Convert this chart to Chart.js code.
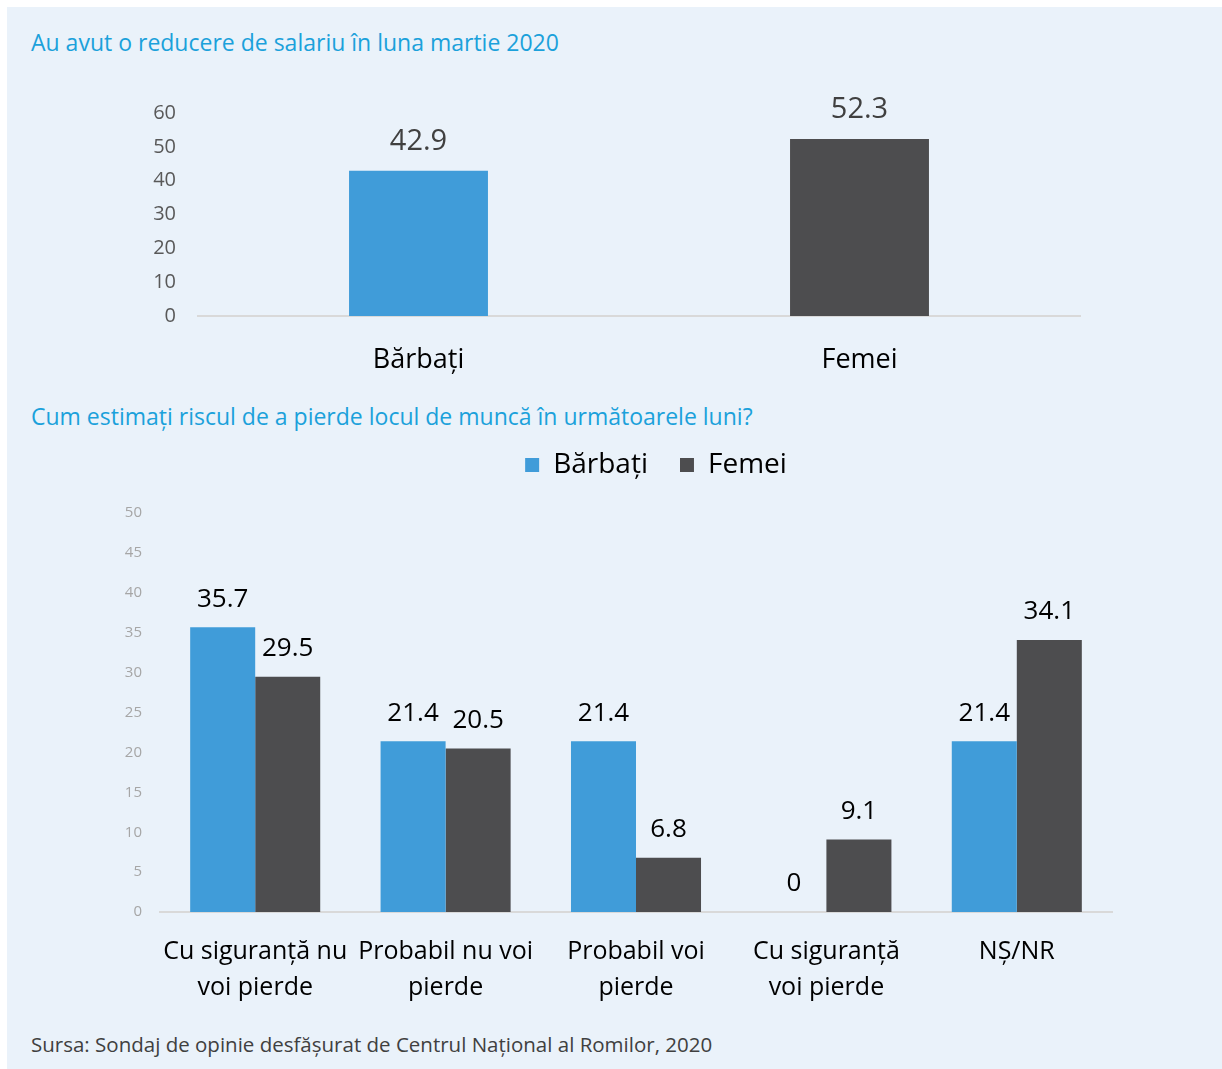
<!DOCTYPE html>
<html>
<head>
  <title>Reducere salariu si risc pierdere loc de munca</title>
  <style>
    body { margin: 0; background: #fff; font-family: "Open Sans", sans-serif; }
    .panel { position: absolute; left: 7px; top: 7px; width: 1215px; height: 1062px; background: #eaf2fa; }
    .title { position: absolute; left: 31px; color: #1ba1db; font-size: 23px; }
    .src { position: absolute; left: 31px; top: 1030px; color: #404040; font-size: 20.5px; }
    .box { position: absolute; left: 0; width: 1222px; }
  </style>
</head>
<body>
  <div class="panel"></div>
  <div class="title" style="top:26px">Au avut o reducere de salariu în luna martie 2020</div>
  <div class="box" style="top:90px;height:300px"><canvas id="salaryChart"></canvas></div>
  <div class="title" style="top:400px">Cum estimați riscul de a pierde locul de muncă în următoarele luni?</div>
  <div class="box" style="top:418px;height:602px"><canvas id="riskChart"></canvas></div>
  <div class="src">Sursa: Sondaj de opinie desfășurat de Centrul Național al Romilor, 2020</div>

  <script src="https://cdn.jsdelivr.net/npm/chart.js"></script>
  <script>
    // top chart
    const genders = ["Bărbați", "Femei"];
    const salaryCut = [42.9, 52.3];

    // bottom chart
    const riskLabels = [
      ["Cu siguranță nu", "voi pierde"],
      ["Probabil nu voi", "pierde"],
      ["Probabil voi", "pierde"],
      ["Cu siguranță", "voi pierde"],
      "NȘ/NR"
    ];
    const riskMen = [35.7, 21.4, 21.4, 0, 21.4];
    const riskWomen = [29.5, 20.5, 6.8, 9.1, 34.1];

    const BLUE = "#409cd9";
    const DARK = "#4d4d4f";

    // draws the value above each bar
    const valueLabels = {
      id: "valueLabels",
      afterDatasetsDraw(chart, args, opts) {
        const ctx = chart.ctx;
        ctx.save();
        ctx.font = opts.size + "px 'Open Sans', sans-serif";
        ctx.fillStyle = opts.color;
        ctx.textAlign = "center";
        ctx.textBaseline = "middle";
        chart.data.datasets.forEach((ds, i) => {
          chart.getDatasetMeta(i).data.forEach((bar, j) => {
            ctx.fillText(String(ds.data[j]), bar.x, bar.y - opts.offset);
          });
        });
        ctx.restore();
      }
    };

    Chart.defaults.font.family = "'Open Sans', sans-serif";
    Chart.defaults.animation = false;

    new Chart(document.getElementById("salaryChart"), {
      type: "bar",
      data: {
        labels: genders,
        datasets: [{
          data: salaryCut,
          backgroundColor: [BLUE, DARK],
          categoryPercentage: 1,
          barPercentage: 0.315
        }]
      },
      options: {
        responsive: true,
        maintainAspectRatio: false,
        layout: { padding: { top: 23, right: 142, bottom: 0, left: 0 } },
        plugins: {
          legend: { display: false },
          tooltip: { enabled: false },
          valueLabels: { size: 29, color: "#404040", offset: 29 }
        },
        scales: {
          x: {
            grid: { display: false },
            border: { color: "#d9d9d9", width: 2 },
            ticks: { color: "#000", font: { size: 27 }, padding: 20 },
            afterFit(s) { s.height = 74; }
          },
          y: {
            min: 0, max: 60,
            grid: { display: false, drawTicks: false },
            border: { display: false },
            ticks: { stepSize: 10, color: "#595959", font: { size: 20 }, padding: 22 },
            afterFit(s) { s.width = 198; s.paddingTop = 0; s.paddingBottom = 0; }
          }
        }
      },
      plugins: [valueLabels]
    });

    new Chart(document.getElementById("riskChart"), {
      type: "bar",
      data: {
        labels: riskLabels,
        datasets: [
          { label: "Bărbați", data: riskMen, backgroundColor: BLUE, categoryPercentage: 0.683, barPercentage: 1 },
          { label: "Femei", data: riskWomen, backgroundColor: DARK, categoryPercentage: 0.683, barPercentage: 1 }
        ]
      },
      options: {
        responsive: true,
        maintainAspectRatio: false,
        layout: { padding: { top: 1, right: 5, bottom: 0, left: 95 } },
        plugins: {
          legend: {
            labels: { color: "#000", font: { size: 28 }, boxWidth: 14, boxHeight: 14, padding: 32 }
          },
          // empty spacer between legend and plot
          subtitle: { display: true, text: "", weight: 500, font: { size: 1 }, padding: { top: 0, bottom: 23 } },
          tooltip: { enabled: false },
          valueLabels: { size: 26, color: "#000", offset: 28 }
        },
        scales: {
          x: {
            grid: { display: false },
            border: { color: "#d9d9d9", width: 2 },
            ticks: { color: "#000", font: { size: 25, lineHeight: 1.44 }, padding: 14, maxRotation: 0 },
            afterFit(s) { s.height = 108; }
          },
          y: {
            min: 0, max: 50,
            grid: { display: false, drawTicks: false },
            border: { display: false },
            ticks: { stepSize: 5, color: "#a6a6a6", font: { size: 15 }, padding: 18 },
            afterFit(s) { s.width = 65; s.paddingTop = 0; s.paddingBottom = 0; }
          },
          // empty right-hand axis that only keeps the plot off the right edge
          spacer: {
            position: "right",
            grid: { display: false },
            border: { display: false },
            ticks: { display: false },
            afterFit(s) { s.width = 105; }
          }
        }
      },
      plugins: [valueLabels]
    });
  </script>
</body>
</html>
